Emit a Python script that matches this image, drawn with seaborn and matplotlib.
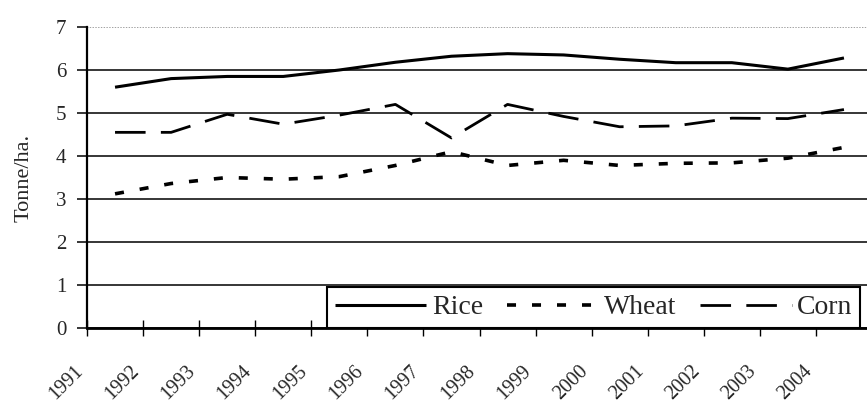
import numpy as np
import pandas as pd
import seaborn as sns
import matplotlib
matplotlib.use("Agg")
import matplotlib.pyplot as plt
from matplotlib.transforms import ScaledTranslation

## data ##

years = [1991, 1992, 1993, 1994, 1995, 1996, 1997, 1998, 1999, 2000, 2001, 2002, 2003, 2004]
rice = [5.60, 5.80, 5.85, 5.85, 6.00, 6.18, 6.32, 6.38, 6.35, 6.25, 6.17, 6.17, 6.02, 6.28]
wheat = [3.12, 3.36, 3.50, 3.46, 3.52, 3.78, 4.10, 3.78, 3.90, 3.78, 3.83, 3.84, 3.95, 4.20]
corn = [4.55, 4.55, 4.97, 4.74, 4.95, 5.20, 4.42, 5.20, 4.92, 4.68, 4.70, 4.88, 4.87, 5.08]

# categories sit between the year ticks
df = pd.DataFrame({"Year": np.array(years) + 0.5, "Rice": rice, "Wheat": wheat, "Corn": corn})

## style ##

sns.set_style("white")
plt.rcParams["font.family"] = ["Liberation Serif", "DejaVu Serif"]
plt.rcParams["lines.scale_dashes"] = False

fig = plt.figure(figsize=(8.67, 4.03), dpi=100)
ax = fig.add_axes([87 / 867, 75 / 403, 785 / 867, 301 / 403])

sns.lineplot(data=df, x="Year", y="Rice", ax=ax, color="black", lw=2.2,
             label="Rice", solid_capstyle="butt")
sns.lineplot(data=df, x="Year", y="Wheat", ax=ax, color="black", lw=2.6,
             linestyle=(0, (6.5, 11.5)), label="Wheat")
sns.lineplot(data=df, x="Year", y="Corn", ax=ax, color="black", lw=2.0,
             linestyle=(0, (22, 11)), label="Corn")

ax.set_xlim(1991, 2005)
ax.set_ylim(0, 7)
ax.set_xticks(years)
ax.set_yticks(range(0, 8))
ax.set_xticklabels([str(y) for y in years], rotation=45, ha="right", va="top", fontsize=14.5)
ax.set_yticklabels([str(v) for v in range(0, 8)], fontsize=15)
ax.set_xlabel("")
ax.set_ylabel("Tonne/ha.", fontsize=16, labelpad=16)

# shift the rotated year labels a bit to the right, like the original
shift = ScaledTranslation(15 / 100, 0, fig.dpi_scale_trans)
for lab in ax.get_xticklabels():
    lab.set_transform(lab.get_transform() + shift)

ax.yaxis.grid(True, color="black", lw=1.1)
ax.get_ygridlines()[-1].set_color("#888888")
ax.get_ygridlines()[-1].set_linestyle((0, (1, 1)))
ax.set_axisbelow(True)

ax.tick_params(axis="x", direction="inout", length=11, width=1, color="black", pad=19, bottom=True)
ax.tick_params(axis="y", direction="out", length=7, width=1.1, color="black", pad=8, left=True)

sns.despine(ax=ax, top=True, right=True)
ax.spines["left"].set_color("black")
ax.spines["left"].set_linewidth(1.6)
ax.spines["bottom"].set_color("black")
ax.spines["bottom"].set_linewidth(2.0)

leg = ax.legend(loc="lower left", bbox_to_anchor=((327 - 87) / 785, 0), borderaxespad=0,
                ncol=3, fontsize=20, frameon=True, fancybox=False, framealpha=1,
                edgecolor="black", handlelength=3.3, handletextpad=0.2,
                columnspacing=0.85, borderpad=0.28)
leg.get_frame().set_linewidth(1.5)

fig.savefig("out.png", dpi=100)
